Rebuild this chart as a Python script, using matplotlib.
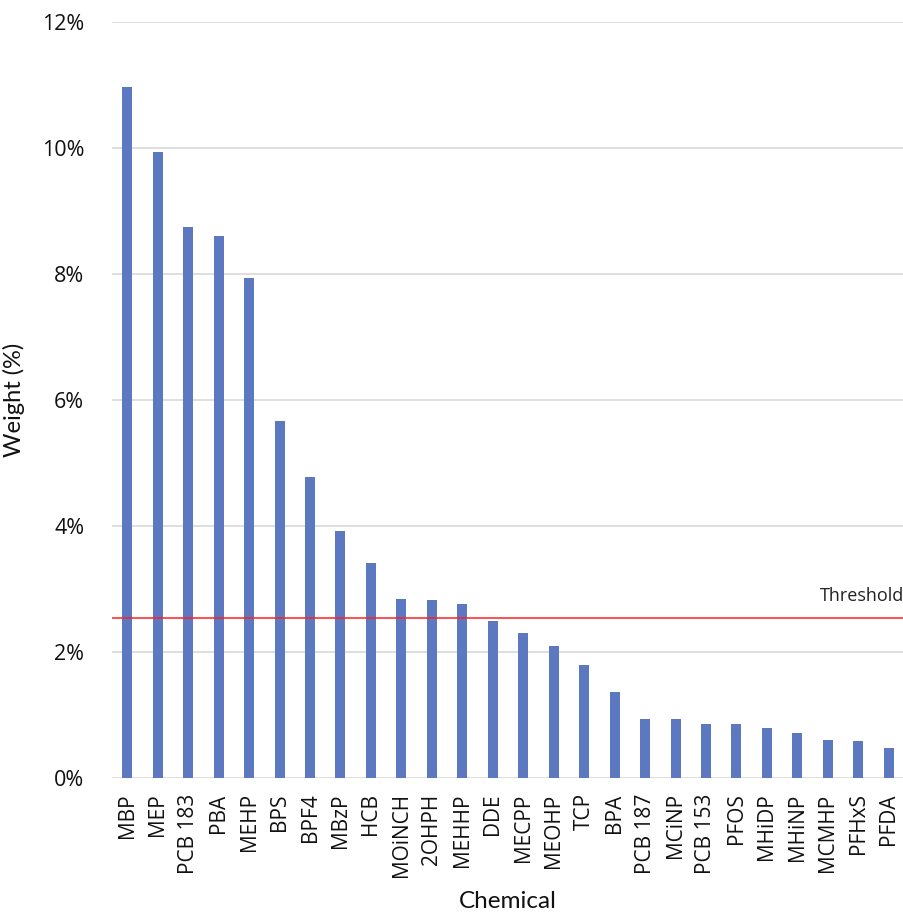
import matplotlib
matplotlib.use("Agg")
import matplotlib.pyplot as plt
from matplotlib.ticker import PercentFormatter, MultipleLocator

chemicals = ["MBP", "MEP", "PCB 183", "PBA", "MEHP", "BPS", "BPF4", "MBzP", "HCB",
             "MOiNCH", "2OHPH", "MEHHP", "DDE", "MECPP", "MEOHP", "TCP", "BPA",
             "PCB 187", "MCiNP", "PCB 153", "PFOS", "MHiDP", "MHiNP", "MCMHP",
             "PFHxS", "PFDA"]
weights = [10.97, 9.94, 8.75, 8.60, 7.94, 5.66, 4.78, 3.92, 3.41,
           2.84, 2.82, 2.76, 2.49, 2.30, 2.09, 1.79, 1.37,
           0.94, 0.93, 0.85, 0.85, 0.80, 0.71, 0.61,
           0.59, 0.47]
threshold = 2.54

W, H = 904, 915
fig = plt.figure(figsize=(W / 100, H / 100), dpi=100)
ax = fig.add_axes([112 / W, 1 - 778 / H, (904 - 112) / W, (778 - 22) / H])

x = range(len(chemicals))
ax.bar(x, weights, width=0.33, color="#5b78c0", zorder=3)
ax.axhline(threshold, color="#ff2020", lw=1.1, zorder=4)
ax.text(22.75, threshold + 0.2, "Threshold", ha="left", va="bottom",
        fontsize=13, family="Open Sans", color="#222222", clip_on=False)

ax.set_xlim(-0.5, len(chemicals) - 0.5)
ax.set_ylim(0, 12)
ax.yaxis.set_major_locator(MultipleLocator(2))
ax.yaxis.set_major_formatter(PercentFormatter(decimals=0))
ax.grid(axis="y", color="#d9d9d9", lw=1.2, zorder=0)
for s in ax.spines.values():
    s.set_visible(False)
ax.tick_params(axis="both", length=0)
ax.tick_params(axis="y", pad=20)
ax.tick_params(axis="x", pad=11)

ax.set_xticks(list(x))
ax.set_xticklabels(chemicals, rotation=90, fontsize=15, family="Open Sans", color="#111111")
for lab in ax.get_yticklabels():
    lab.set_fontsize(15.5)
    lab.set_family("Open Sans")
    lab.set_color("#111111")

ax.set_ylabel("Weight (%)", fontsize=17, family="Lato", color="#111111", labelpad=12)
ax.set_xlabel("Chemical", fontsize=17.5, family="Lato", color="#111111", labelpad=10)

fig.savefig("out.png", dpi=100)
